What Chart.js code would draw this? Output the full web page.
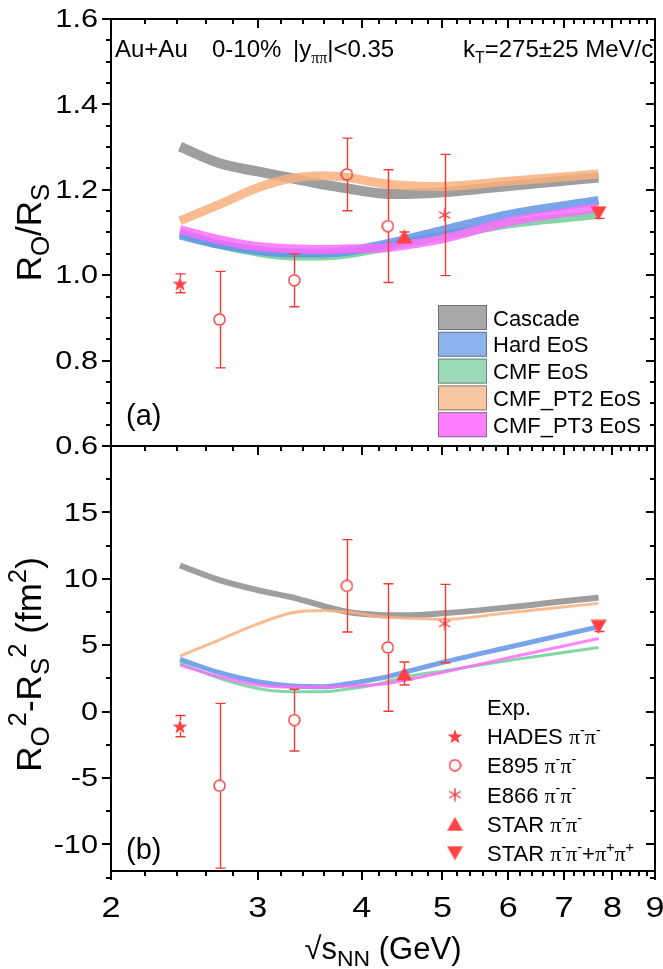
<!DOCTYPE html>
<html>
<head>
<meta charset="utf-8">
<title>Pion HBT radii vs collision energy</title>
<script src="https://cdn.jsdelivr.net/npm/chart.js@4.4.1/dist/chart.umd.min.js"></script>
<style>
  html, body { margin: 0; padding: 0; background: #ffffff; }
  #figure { position: relative; width: 663px; height: 969px; overflow: hidden; }
  #figure canvas { position: absolute; left: 0; top: 0; }
</style>
</head>
<body>
<div id="figure">
  <canvas id="panelA" width="663" height="969"></canvas>
  <canvas id="panelB" width="663" height="969"></canvas>
</div>
<script>
// ---- collision energies (GeV) of the model calculations ----
const modelEnergy = [2.42, 2.7, 3.0, 3.3, 3.6, 3.85, 4.2, 4.5, 5.0, 6.0, 7.7];

// R_O / R_S
const ratioCascade = [1.301, 1.262, 1.243, 1.227, 1.212, 1.203, 1.192, 1.190, 1.194, 1.209, 1.229];
const ratioHard    = [1.094, 1.072, 1.058, 1.052, 1.052, 1.056, 1.070, 1.083, 1.105, 1.142, 1.175];
const ratioCMF     = [1.100, 1.072, 1.054, 1.045, 1.045, 1.050, 1.063, 1.075, 1.092, 1.120, 1.142];
const ratioPT2     = [1.127, 1.166, 1.205, 1.227, 1.233, 1.229, 1.216, 1.210, 1.208, 1.220, 1.237];
const ratioPT3     = [1.107, 1.083, 1.067, 1.062, 1.060, 1.062, 1.063, 1.070, 1.085, 1.125, 1.158];

// R_O^2 - R_S^2 (fm^2)
const diffCascade = [11.0, 9.9, 9.15, 8.6, 7.95, 7.5, 7.28, 7.25, 7.4, 7.85, 8.6];
const diffHard    = [3.93, 2.93, 2.25, 1.93, 1.88, 2.1, 2.5, 2.95, 3.7, 4.85, 6.38];
const diffCMF     = [3.65, 2.5, 1.74, 1.5, 1.5, 1.7, 2.1, 2.6, 3.05, 3.85, 4.83];
const diffPT2     = [4.18, 5.4, 6.6, 7.45, 7.62, 7.5, 7.15, 7.05, 6.95, 7.45, 8.15];
const diffPT3     = [3.5, 2.63, 2.0, 1.85, 1.85, 1.93, 2.05, 2.35, 2.95, 4.05, 5.5];

// ---- measurements ----
const hadesEnergy = [2.42];
const hadesRatio = [0.981], hadesRatioErr = [0.022];
const hadesDiff = [-1.09], hadesDiffErr = [0.8];

const e895Energy = [2.7, 3.32, 3.84, 4.3];
const e895Ratio = [0.896, 0.988, 1.236, 1.115], e895RatioErr = [0.113, 0.062, 0.085, 0.132];
const e895Diff = [-5.58, -0.64, 9.47, 4.83], e895DiffErr = [6.2, 2.33, 3.48, 4.8];

const e866Energy = [5.03];
const e866Ratio = [1.141], e866RatioErr = [0.142];
const e866Diff = [6.63], e866DiffErr = [2.95];

const starEnergy = [4.5];
const starRatio = [1.091], starRatioErr = [0.01];
const starDiff = [2.87], starDiffErr = [0.87];

const starAllEnergy = [7.7];
const starAllRatio = [1.145], starAllRatioErr = [0.012];
const starAllDiff = [6.38], starAllDiffErr = [0.35];

// ---- axes ----
const energyTicks = [2, 3, 4, 5, 6, 7, 8, 9];
const ratioTicks = [0.6, 0.8, 1.0, 1.2, 1.4, 1.6];
const diffTicks = [-10, -5, 0, 5, 10, 15];
const modelLabels = ['Cascade', 'Hard EoS', 'CMF EoS', 'CMF_PT2 EoS', 'CMF_PT3 EoS'];

// ---- styling ----
const SANS = '"Liberation Sans", Arial, Helvetica, sans-serif';
const SERIF = '"Liberation Serif", "DejaVu Serif", serif';
const RED = '#f03a3a';
const curveColors = ['rgba(148,148,148,0.9)', 'rgba(98,148,230,0.85)', 'rgba(112,206,150,0.85)',
                     'rgba(248,176,126,0.85)', 'rgba(255,105,255,0.82)'];
const legendFill = ['#a9a9a9', '#8cb4ec', '#9bdab8', '#f9c6a2', '#ff80ff'];
const W = 663, H = 969;
const LEFT = 111, RIGHT = 655, TOP = 19, MID = 446, BOTTOM = 871;
const TICK_STRETCH = 1.18;   // tick numerals are set slightly wide

const pts = (xs, ys) => xs.map((x, i) => ({ x: x, y: ys[i] }));
const fontOf = (size, fam) => size + 'px ' + (fam || SANS);

// text with sub/superscripts: parts = [[text, mode, family]]
function drawRich(ctx, parts, x, y, size, align, scriptRatio) {
  const ratio = scriptRatio || 0.66;
  let w = 0;
  const laid = parts.map(([t, mode, fam]) => {
    const s = mode ? size * ratio : size;
    ctx.font = fontOf(s, fam);
    const item = { t, s, fam, x: w, dy: mode === 'sub' ? size * 0.24 : mode === 'sup' ? -size * 0.42 : 0 };
    w += ctx.measureText(t).width;
    return item;
  });
  const x0 = align === 'center' ? x - w / 2 : align === 'right' ? x - w : x;
  ctx.textAlign = 'left';
  ctx.textBaseline = 'alphabetic';
  for (const p of laid) {
    ctx.font = fontOf(p.s, p.fam);
    ctx.fillText(p.t, x0 + p.x, y + p.dy);
  }
}

// wide-set numeral at an anchor point
function drawWide(ctx, text, x, y) {
  ctx.save();
  ctx.translate(x, y);
  ctx.scale(TICK_STRETCH, 1);
  ctx.fillText(text, 0, 0);
  ctx.restore();
}

// marker glyphs used as point styles
function symbol(kind, w, h) {
  const c = document.createElement('canvas');
  c.width = w; c.height = h;
  const g = c.getContext('2d');
  const cx = w / 2, cy = h / 2;
  g.fillStyle = '#ff4242';
  g.strokeStyle = RED;
  g.lineWidth = 1.4;
  g.beginPath();
  if (kind === 'star') {
    const ro = w / 2 - 0.3, ri = ro * 0.42;
    for (let k = 0; k < 10; k++) {
      const r = k % 2 ? ri : ro;
      const a = -Math.PI / 2 + k * Math.PI / 5;
      g.lineTo(cx + r * Math.cos(a), cy + 1 + r * Math.sin(a));
    }
    g.closePath(); g.fill();
  } else if (kind === 'up') {
    g.moveTo(cx, 0.5); g.lineTo(w - 0.5, h - 0.5); g.lineTo(0.5, h - 0.5);
    g.closePath(); g.fill();
  } else if (kind === 'down') {
    g.moveTo(0.5, 0.5); g.lineTo(w - 0.5, 0.5); g.lineTo(cx, h - 0.5);
    g.closePath(); g.fill();
  } else if (kind === 'circle') {
    g.arc(cx, cy, w / 2 - 1, 0, Math.PI * 2); g.stroke();
  } else if (kind === 'aster') {
    const r = w / 2 - 0.5;
    for (const a of [90, 30, 150]) {
      const rad = a * Math.PI / 180;
      g.moveTo(cx - r * Math.cos(rad), cy - r * Math.sin(rad));
      g.lineTo(cx + r * Math.cos(rad), cy + r * Math.sin(rad));
    }
    g.stroke();
  }
  return c;
}
const glyphs = {
  star: symbol('star', 16, 16),
  circle: symbol('circle', 13, 13),
  aster: symbol('aster', 14, 14),
  up: symbol('up', 17, 15),
  down: symbol('down', 17, 15)
};
const gaps = { star: 6, circle: 6, aster: 0, up: 6, down: 6 };

function curveSets(values, widths) {
  return values.map((v, i) => ({
    label: modelLabels[i],
    data: pts(modelEnergy, v),
    borderColor: curveColors[i],
    borderWidth: widths[i],
    cubicInterpolationMode: 'monotone',
    pointRadius: 0,
    fill: false,
    order: [14, 11, 12, 13, 10][i]
  }));
}

function markerSets(list) {
  return list.map((m, i) => ({
    label: m.name,
    data: pts(m.x, m.y),
    showLine: false,
    pointStyle: glyphs[m.glyph],
    pointRadius: 7,
    order: i
  }));
}

function drawErrorBars(chart, list) {
  const { ctx } = chart;
  const xs = chart.scales.x, ys = chart.scales.y;
  ctx.save();
  ctx.strokeStyle = RED;
  ctx.lineWidth = 1.4;
  ctx.beginPath();
  for (const m of list) {
    const gap = gaps[m.glyph];
    m.x.forEach((xv, i) => {
      const px = Math.round(xs.getPixelForValue(xv)) + 0.5;
      const py = ys.getPixelForValue(m.y[i]);
      const hi = ys.getPixelForValue(m.y[i] + m.e[i]);
      const lo = ys.getPixelForValue(m.y[i] - m.e[i]);
      if (hi < py - gap) { ctx.moveTo(px, hi); ctx.lineTo(px, py - gap); }
      if (lo > py + gap) { ctx.moveTo(px, py + gap); ctx.lineTo(px, lo); }
      ctx.moveTo(px - 5, hi); ctx.lineTo(px + 5, hi);
      ctx.moveTo(px - 5, lo); ctx.lineTo(px + 5, lo);
    });
  }
  ctx.stroke();
  ctx.restore();
}

function drawFrame(chart, yMajor, yMinorStep, yMin, yMax, withBottomLabels) {
  const { ctx, chartArea: a } = chart;
  const xs = chart.scales.x, ys = chart.scales.y;
  ctx.save();
  ctx.strokeStyle = '#000';
  ctx.lineWidth = 2;
  ctx.strokeRect(a.left, a.top, a.right - a.left, a.bottom - a.top);
  ctx.beginPath();
  // y ticks: outward on the left, inward on the right
  const nMinor = Math.round((yMax - yMin) / yMinorStep);
  for (let k = 0; k <= nMinor; k++) {
    const v = yMin + k * yMinorStep;
    const major = yMajor.some(t => Math.abs(t - v) < 1e-6);
    const len = major ? 9 : 5;
    const py = Math.round(ys.getPixelForValue(v));
    ctx.moveTo(a.left, py); ctx.lineTo(a.left - len, py);
    ctx.moveTo(a.right, py); ctx.lineTo(a.right - len, py);
  }
  // x ticks: inward at the top, outward at the bottom
  for (let n = energyTicks[0]; n < energyTicks[energyTicks.length - 1]; n++) {
    for (let s = 0; s < 5; s++) {
      const v = n + s * 0.2;
      const len = s === 0 ? 9 : 5;
      const px = Math.round(xs.getPixelForValue(v));
      ctx.moveTo(px, a.top); ctx.lineTo(px, a.top + len);
      ctx.moveTo(px, a.bottom); ctx.lineTo(px, a.bottom + len);
    }
  }
  const pxEnd = Math.round(xs.getPixelForValue(energyTicks[energyTicks.length - 1]));
  ctx.moveTo(pxEnd, a.bottom); ctx.lineTo(pxEnd, a.bottom + 9);
  ctx.stroke();

  // y tick labels
  ctx.fillStyle = '#000';
  ctx.font = fontOf(26);
  ctx.textAlign = 'right';
  ctx.textBaseline = 'middle';
  for (const t of yMajor) {
    const label = Math.abs(t) < 1e-9 ? '0' : (yMax < 5 ? t.toFixed(1) : String(t));
    drawWide(ctx, label, a.left - 13, ys.getPixelForValue(t) + 1);
  }
  if (withBottomLabels) {
    ctx.font = fontOf(29);
    ctx.textAlign = 'center';
    ctx.textBaseline = 'alphabetic';
    for (const t of energyTicks) drawWide(ctx, String(t), xs.getPixelForValue(t), a.bottom + 46);
  }
  ctx.restore();
}

function drawYTitle(ctx, parts, cy) {
  ctx.save();
  ctx.translate(41, cy);
  ctx.rotate(-Math.PI / 2);
  ctx.fillStyle = '#000';
  drawRich(ctx, parts, 0, 0, 35, 'center', 0.74);
  ctx.restore();
}

const pipi = (a, b) => [['π', '', SERIF], [a, 'sup'], ['π', '', SERIF], [b, 'sup']];

// ---------------- panel (a): R_O / R_S ----------------
const ratioMarkers = [
  { name: 'HADES', glyph: 'star', x: hadesEnergy, y: hadesRatio, e: hadesRatioErr },
  { name: 'E895', glyph: 'circle', x: e895Energy, y: e895Ratio, e: e895RatioErr },
  { name: 'E866', glyph: 'aster', x: e866Energy, y: e866Ratio, e: e866RatioErr },
  { name: 'STAR', glyph: 'up', x: starEnergy, y: starRatio, e: starRatioErr },
  { name: 'STAR all', glyph: 'down', x: starAllEnergy, y: starAllRatio, e: starAllRatioErr }
];

const panelA = {
  id: 'panelA',
  afterDatasetDraw(chart, args) {
    if (chart.data.datasets[args.index].label === 'CMF_PT3 EoS') drawErrorBars(chart, ratioMarkers);
  },
  afterDraw(chart) {
    const { ctx } = chart;
    drawFrame(chart, ratioTicks, 0.05, 0.6, 1.6, false);
    ctx.save();
    ctx.fillStyle = '#000';
    drawYTitle(ctx, [['R'], ['O', 'sub'], ['/R'], ['S', 'sub']], (TOP + MID) / 2);
    // header line
    drawRich(ctx, [['Au+Au']], 115, 57, 24);
    drawRich(ctx, [['0-10%']], 212, 57, 24);
    drawRich(ctx, [['|y'], ['ππ', 'sub', SERIF], ['|<0.35']], 293, 57, 24);
    drawRich(ctx, [['k'], ['T', 'sub'], ['=275±25 MeV/c']], 463, 57, 24);
    // panel tag
    drawRich(ctx, [['(a)']], 126, 425, 29);
    // model legend
    modelLabels.forEach((lab, i) => {
      const y = 305 + i * 26.8;
      ctx.fillStyle = legendFill[i];
      ctx.fillRect(438, y, 49, 25);
      ctx.strokeStyle = 'rgba(90,90,90,0.7)';
      ctx.lineWidth = 1;
      ctx.strokeRect(438.5, y + 0.5, 48, 24);
      ctx.fillStyle = '#000';
      drawRich(ctx, [[lab]], 493, y + 20.5, 22);
    });
    ctx.restore();
  }
};

new Chart(document.getElementById('panelA'), {
  type: 'line',
  data: {
    datasets: [
      ...markerSets(ratioMarkers),
      ...curveSets([ratioCascade, ratioHard, ratioCMF, ratioPT2, ratioPT3], [10, 9, 9, 9, 9])
    ]
  },
  options: {
    responsive: false,
    animation: false,
    devicePixelRatio: 1,
    events: [],
    layout: { padding: { left: LEFT, right: W - RIGHT, top: TOP, bottom: H - MID } },
    plugins: { legend: { display: false }, tooltip: { enabled: false } },
    scales: {
      x: { type: 'logarithmic', min: 2, max: 9, display: false },
      y: { type: 'linear', min: 0.6, max: 1.6, display: false }
    }
  },
  plugins: [panelA]
});

// ---------------- panel (b): R_O^2 - R_S^2 ----------------
const diffMarkers = [
  { name: 'HADES', glyph: 'star', x: hadesEnergy, y: hadesDiff, e: hadesDiffErr },
  { name: 'E895', glyph: 'circle', x: e895Energy, y: e895Diff, e: e895DiffErr },
  { name: 'E866', glyph: 'aster', x: e866Energy, y: e866Diff, e: e866DiffErr },
  { name: 'STAR', glyph: 'up', x: starEnergy, y: starDiff, e: starDiffErr },
  { name: 'STAR all', glyph: 'down', x: starAllEnergy, y: starAllDiff, e: starAllDiffErr }
];
const expLegend = [
  { glyph: 'star', parts: [['HADES '], ...pipi('-', '-')] },
  { glyph: 'circle', parts: [['E895 '], ...pipi('-', '-')] },
  { glyph: 'aster', parts: [['E866 '], ...pipi('-', '-')] },
  { glyph: 'up', parts: [['STAR '], ...pipi('-', '-')] },
  { glyph: 'down', parts: [['STAR '], ...pipi('-', '-'), ['+'], ...pipi('+', '+')] }
];

const panelB = {
  id: 'panelB',
  afterDatasetDraw(chart, args) {
    if (chart.data.datasets[args.index].label === 'CMF_PT3 EoS') drawErrorBars(chart, diffMarkers);
  },
  afterDraw(chart) {
    const { ctx } = chart;
    drawFrame(chart, diffTicks, 2.5, -12.5, 20, true);
    ctx.save();
    ctx.fillStyle = '#000';
    drawYTitle(ctx, [['R'], ['O', 'sub'], ['2', 'sup'], ['-R'], ['S', 'sub'], ['2', 'sup'], [' (fm'], ['2', 'sup'], [')']],
      (MID + BOTTOM) / 2 + 6);
    drawRich(ctx, [['√s'], ['NN', 'sub'], [' (GeV)']], (LEFT + RIGHT) / 2, 959, 31, 'center', 0.74);
    drawRich(ctx, [['(b)']], 126, 859, 29);
    drawRich(ctx, [['Exp.']], 487, 715, 22);
    expLegend.forEach((row, i) => {
      const cy = 736 + i * 29.3;
      const gl = glyphs[row.glyph];
      ctx.drawImage(gl, 455 - gl.width / 2, cy - gl.height / 2);
      drawRich(ctx, row.parts, 487, cy + 8, 22);
    });
    ctx.restore();
  }
};

new Chart(document.getElementById('panelB'), {
  type: 'line',
  data: {
    datasets: [
      ...markerSets(diffMarkers),
      ...curveSets([diffCascade, diffHard, diffCMF, diffPT2, diffPT3], [6, 5, 3, 3, 3])
    ]
  },
  options: {
    responsive: false,
    animation: false,
    devicePixelRatio: 1,
    events: [],
    layout: { padding: { left: LEFT, right: W - RIGHT, top: MID, bottom: H - BOTTOM } },
    plugins: { legend: { display: false }, tooltip: { enabled: false } },
    scales: {
      x: { type: 'logarithmic', min: 2, max: 9, display: false },
      y: { type: 'linear', min: -12, max: 20, display: false }
    }
  },
  plugins: [panelB]
});
</script>
</body>
</html>
